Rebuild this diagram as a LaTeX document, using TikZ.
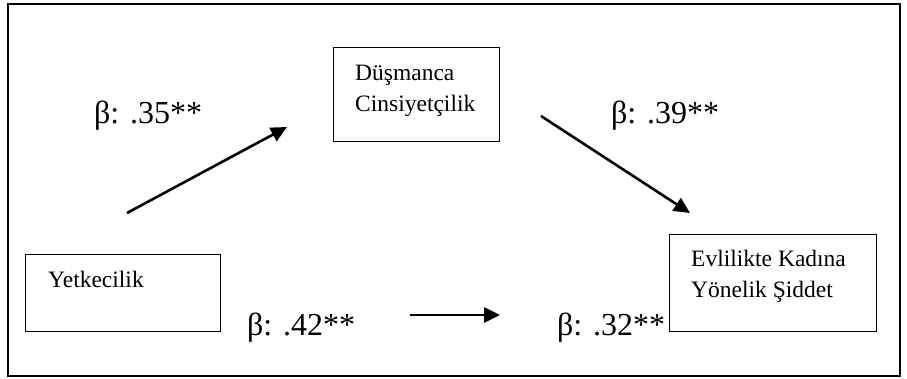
\documentclass[tikz,border=0pt]{standalone}
\usepackage{fontspec}
\setmainfont{Liberation Serif}
\usetikzlibrary{arrows.meta}
\tikzstyle{frame}=[line width=2.2pt]
\tikzstyle{construct box}=[draw, line width=1.3pt, inner sep=0pt, anchor=north west]
\tikzstyle{construct text}=[inner sep=0pt, anchor=base west, align=left, font=\fontsize{23.5}{31}\selectfont]
\tikzstyle{coefficient}=[inner sep=0pt, anchor=base west, font=\fontsize{32}{36}\selectfont]
\tikzstyle{path arrow}=[line width=2.6pt, -{Triangle[length=16pt, width=15pt]}]

\begin{document}
\begin{tikzpicture}[x=1pt, y=-1pt]
      \useasboundingbox (0,0) rectangle (907,378);
      \draw[frame] (8,4) rectangle (900,376);
      \node[construct box, minimum width=195pt, minimum height=77pt] (yetke) at (25,254) {};
      \node[construct box, minimum width=166pt, minimum height=94pt] (dusman) at (333,47) {};
      \node[construct box, minimum width=207pt, minimum height=97pt] (siddet) at (669,234) {};
      % base anchor sits on the last line
      \node[construct text] (yetke text) at (48,287) {Yetkecilik};
      \node[construct text] (dusman text) at (355,111) {Düşmanca\\Cinsiyetçilik};
      \node[construct text] (siddet text) at (691,297) {Evlilikte Kadına\\Yönelik Şiddet};
      \node[coefficient] (beta a) at (94,123) {β: .35**};
      \node[coefficient] (beta b) at (611,123) {β: .39**};
      \node[coefficient] (beta c) at (247,335) {β: .42**};
      \node[coefficient] (beta cp) at (557,335) {β: .32**};
      \coordinate (a start) at (127,213);
      \coordinate (a end) at (287,127);
      \coordinate (b start) at (541,116);
      \coordinate (b end) at (690,213);
      \coordinate (c start) at (410,315);
      \coordinate (c end) at (500,315);
      \draw[path arrow] (a start) -- (a end);
      \draw[path arrow] (b start) -- (b end);
      \draw[path arrow] (c start) -- (c end);
    \end{tikzpicture}
\end{document}
